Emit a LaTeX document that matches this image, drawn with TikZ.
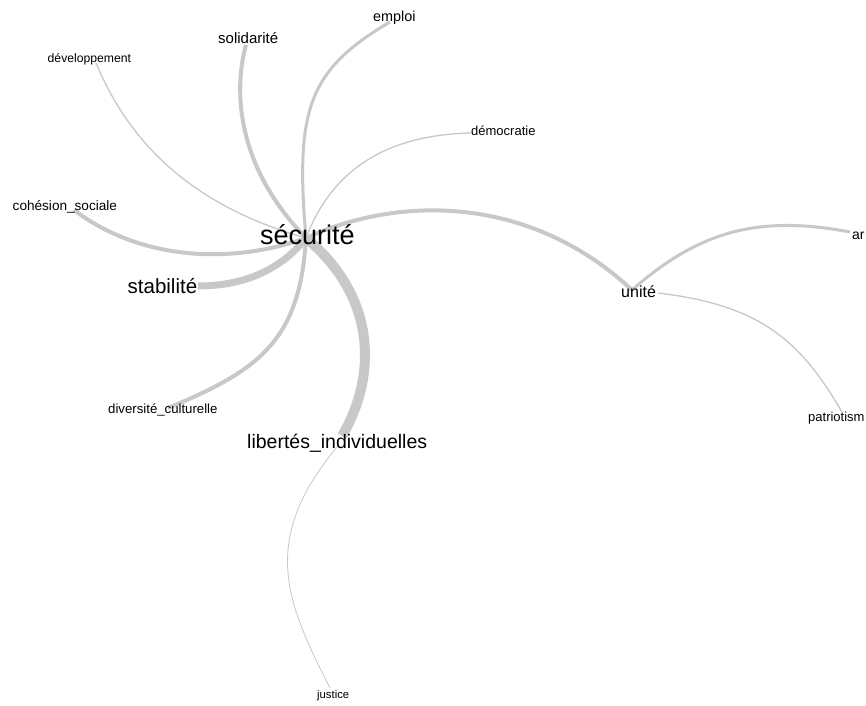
\documentclass[tikz,border=0pt]{standalone}
\usepackage{fontspec}
\setmainfont{Liberation Sans}
\definecolor{edgegray}{RGB}{200,200,200}
\begin{document}
\begin{tikzpicture}[x=1pt,y=-1pt,
  edge/.style={draw=edgegray,line cap=butt},
  lbl/.style={inner sep=0pt,anchor=base west,text=black},
  fs/.style={font=\fontsize{#1}{#1}\selectfont}]
\clip (0,0) rectangle (866,705);
\fill[white] (0,0) rectangle (866,705);
% hub coordinates
\coordinate (sec) at (306,238);
\coordinate (emp) at (390,22);
\coordinate (sol) at (246,45);
\coordinate (dev) at (96,63);
\coordinate (dem) at (471,133);
\coordinate (coh) at (74,210);
\coordinate (sta) at (198,286);
\coordinate (uni) at (632,290);
\coordinate (uni2) at (658,293);
\coordinate (arm) at (850,232);
\coordinate (pat) at (842,412);
\coordinate (lib) at (342,436);
\coordinate (lib2) at (337,447);
\coordinate (div) at (168,408);
\coordinate (jus) at (330,688);
% edges
\draw[edge,line width=3pt] (sec) .. controls (295,110) and (308,70) .. (emp);
\draw[edge,line width=4pt] (sec) .. controls (230,160) and (236,80) .. (sol);
\draw[edge,line width=1.3pt] (sec) .. controls (170,200) and (120,120) .. (dev);
\draw[edge,line width=1.3pt] (sec) .. controls (330,175) and (380,135) .. (dem);
\draw[edge,line width=4pt] (coh) .. controls (140,260) and (230,265) .. (sec);
\draw[edge,line width=7pt] (sta) .. controls (250,286) and (285,265) .. (sec);
\draw[edge,line width=4pt] (sec) .. controls (400,195) and (530,195) .. (uni);
\draw[edge,line width=10pt] (sec) .. controls (380,300) and (375,380) .. (lib);
\draw[edge,line width=4pt] (sec) .. controls (300,340) and (260,370) .. (div);
\draw[edge,line width=3pt] (uni) .. controls (700,230) and (760,215) .. (arm);
\draw[edge,line width=1.3pt] (uni2) .. controls (760,305) and (800,340) .. (pat);
\draw[edge,line width=0.8pt] (lib2) .. controls (260,540) and (285,600) .. (jus);
% labels
\node[lbl,fs=14.4] (empL) at (373,21) {emploi};
\node[lbl,fs=15] (solL) at (218,43) {solidarité};
\node[lbl,fs=12.2] (devL) at (47.5,62) {développement};
\node[lbl,fs=13] (demL) at (471,135) {démocratie};
\node[lbl,fs=13.6] (cohL) at (12.5,210) {cohésion\_sociale};
\node[lbl,fs=27] (secL) at (260,244) {sécurité};
\node[lbl,fs=20.5] (staL) at (127.5,293) {stabilité};
\node[lbl,fs=16] (uniL) at (621,297) {unité};
\node[lbl,fs=14] (armL) at (852,239) {ar};
\node[lbl,fs=13] (patL) at (808,421) {patriotism};
\node[lbl,fs=13.2] (divL) at (108,413) {diversité\_culturelle};
\node[lbl,fs=19.5] (libL) at (247,448) {libertés\_individuelles};
\node[lbl,fs=11.3] (jusL) at (317,698) {justice};
\end{tikzpicture}
\end{document}
